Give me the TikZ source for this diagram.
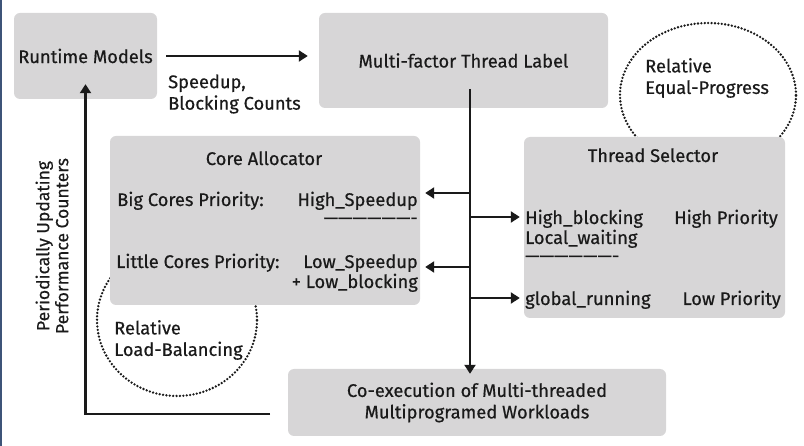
\documentclass[tikz,border=0pt]{standalone}
\usepackage{fontspec}
\setmainfont{Fira Sans}[FakeBold=0.5]
\usetikzlibrary{arrows.meta}
\definecolor{boxgray}{HTML}{D7D6D7}
\definecolor{edgeblue}{HTML}{3E5478}
\definecolor{ink}{HTML}{1A1A1A}
\newcommand{\dashrow}{——————-}

\begin{document}
\begin{tikzpicture}[x=1pt, y=-1pt, font=\fontsize{18.3}{21.5}\selectfont, text=ink,
  box/.style={fill=boxgray, rounded corners=6pt, inner sep=0pt, align=center},
  lbl/.style={inner sep=0pt},
  flow/.style={draw=ink, line width=2.7pt, -{Triangle[length=9pt,width=11pt]}},
  dotring/.style={draw=ink, line width=2.6pt, line cap=round, dash pattern=on 0pt off 3.4pt}]
\useasboundingbox (0,0) rectangle (804,446);
\fill[edgeblue] (0,0) rectangle (2,446);
\draw[dotring] (708,95) ellipse [x radius=88pt, y radius=72pt];
\draw[dotring] (177,320) ellipse [x radius=80pt, y radius=76pt];
\node[box, minimum width=143pt, minimum height=86pt] (runtime) at (85.5,56) {Runtime Models};
\node[box, minimum width=289pt, minimum height=95pt] (label) at (463.5,60.5) {Multi-factor Thread Label};
\node[box, minimum width=310pt, minimum height=169pt] (core) at (265,220.5) {};
\node[box, minimum width=261pt, minimum height=181pt] (selector) at (654.5,227.5) {};
\node[box, minimum width=378pt, minimum height=67pt] (coexec) at (477,402.5) {Co-execution of Multi-threaded\\Multiprogramed Workloads};
\node[lbl, anchor=west, align=left] (speedup) at (168,94) {Speedup,\\Blocking Counts};
\node[lbl, anchor=west, align=left] (progress) at (645,78) {Relative\\Equal-Progress};
\node[lbl, anchor=west, align=left] (balance) at (114,340) {Relative\\Load-Balancing};
\node[lbl, rotate=90, align=center, font=\fontsize{17.5}{19}\selectfont] (counters) at (52,246) {Periodically Updating\\Performance Counters};
\node[lbl, anchor=base] (core-t) at (264,165) {Core Allocator};
\node[lbl, anchor=base west] (big) at (117,206) {Big Cores Priority:};
\node[lbl, anchor=base east] (big-r) at (418,206) {High\_Speedup};
\node[lbl, anchor=base east] (core-d) at (418,224) {\dashrow};
\node[lbl, anchor=base west] (little) at (116,268) {Little Cores Priority:};
\node[lbl, anchor=base east] (little-r) at (418,268) {Low\_Speedup};
\node[lbl, anchor=base east] (little-r2) at (418,288) {+ Low\_blocking};
\node[lbl, anchor=base] (sel-t) at (653,162) {Thread Selector};
\node[lbl, anchor=base west] (hb) at (525,224) {High\_blocking};
\node[lbl, anchor=base east] (hp) at (778,224) {High Priority};
\node[lbl, anchor=base west] (lw) at (525,244) {Local\_waiting};
\node[lbl, anchor=base west] (sel-d) at (525,262) {\dashrow};
\node[lbl, anchor=base west] (gr) at (525,305) {global\_running};
\node[lbl, anchor=base east] (lp) at (781,305) {Low Priority};
\coordinate (stem) at (470,89);
\coordinate (b1) at (470,193);
\coordinate (b2) at (470,217);
\coordinate (b3) at (470,267);
\coordinate (b4) at (470,298);
\coordinate (fb) at (270,414);
\draw[flow, shorten <=9pt, shorten >=11pt] (runtime.east) -- (runtime.east -| label.west);
\draw[flow, shorten >=-5pt] (stem) -- (stem |- coexec.north);
\draw[flow, shorten >=5pt] (b1) -- (b1 -| core.east);
\draw[flow, shorten >=5pt] (b3) -- (b3 -| core.east);
\draw[flow, shorten >=4pt] (b2) -- (b2 -| selector.west);
\draw[flow, shorten >=4pt] (b4) -- (b4 -| selector.west);
\draw[flow] (fb) -| ([yshift=15pt]runtime.south);
\end{tikzpicture}
\end{document}
